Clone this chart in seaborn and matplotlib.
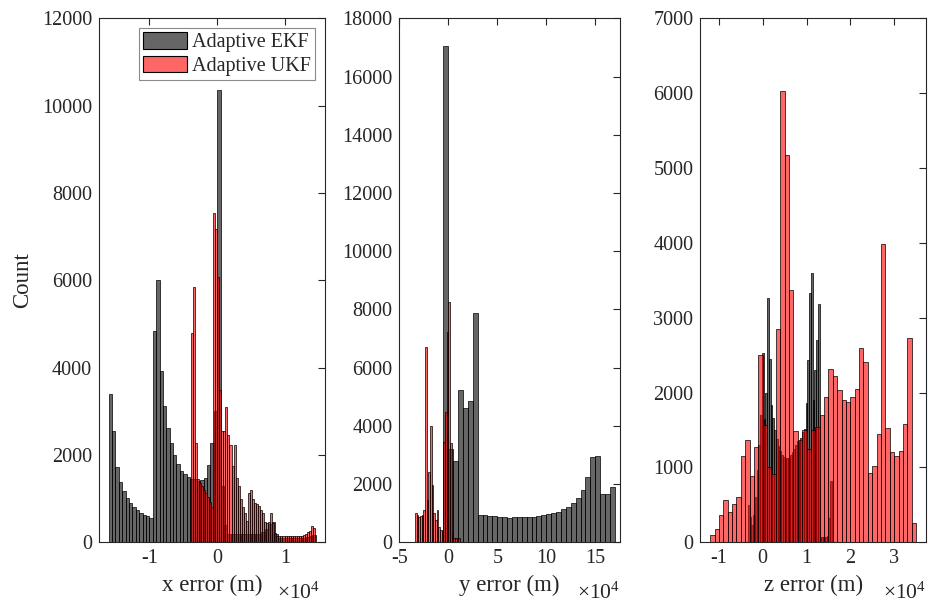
import numpy as np
import pandas as pd
import matplotlib
matplotlib.use("Agg")
import matplotlib.pyplot as plt
from matplotlib.patches import Patch
from matplotlib.ticker import FuncFormatter
import seaborn as sns

sns.set_theme(style="white")
plt.rcParams["font.family"] = ["Liberation Serif", "DejaVu Serif"]
plt.rcParams["mathtext.fontset"] = "custom"
plt.rcParams["mathtext.rm"] = "Liberation Serif"
plt.rcParams["mathtext.it"] = "Liberation Serif:italic"
plt.rcParams["axes.unicode_minus"] = False

# axis multiplier shown as "x10^4" under each panel
SCALE_EXP = 4

# ---------------- x error (m) ----------------
x_ekf_start, x_ekf_width = -16000.0, 500.0
x_ekf_counts = [3400, 2555, 1720, 1380, 1170, 1010, 895, 810, 735, 680, 630, 600, 560,
                4850, 6000, 3930, 3130, 2620, 2270, 1990, 1790, 1640, 1560, 1490, 1460,
                1450, 1400, 1420, 1470, 1780, 2280, 3000, 10350,
                1300, 400, 200, 190, 185, 185, 180, 180, 185, 185, 190, 200, 230, 300,
                420, 470, 200, 110, 100, 100, 100, 100, 100, 100, 110, 120, 140, 160]
x_ukf_start, x_ukf_width = -3900.0, 300.0
x_ukf_counts = [4800, 5850, 2270, 1450, 1350, 1280, 1200, 1120, 1030, 930, 820,
                7540, 7170, 6080, 3500, 2540, 2540, 3090, 2460, 2230, 1750, 2225, 1470,
                1300, 1000, 820, 665, 480, 1125, 1200, 1000, 900, 870, 830, 740, 680,
                460, 450, 460, 680, 450, 210, 150,
                145, 145, 145, 145, 145, 145, 145, 145, 145, 145, 145, 150,
                170, 200, 240, 260, 375, 335]

# ---------------- y error (m) ----------------
y_ekf_start, y_ekf_width = -5000.0, 5000.0
y_ekf_counts = [17060, 3206, 2793, 5240, 4604, 4855, 7868, 938, 925, 915, 900, 880,
                859, 825, 859, 859, 859, 859, 880, 904, 928, 962, 996, 1051, 1134,
                1223, 1340, 1512, 1797, 2254, 2941, 2950, 1650, 1650, 1900]
y_ukf_start, y_ukf_width = -34000.0, 1700.0
y_ukf_counts = [996, 950, 880, 900, 950, 1100, 6720, 1453, 2426, 3996, 1969, 996,
                766, 1110, 536, 423, 400, 3457, 4488, 7237, 8267, 3401, 309,
                137, 137, 137, 160]

# ---------------- z error (m) ----------------
z_ekf_start, z_ekf_width = -3400.0, 400.0
z_ekf_counts = [500, 340, 230, 365, 610, 960, 1300, 1700, 2530, 1650, 2000, 3270,
                2450, 1830, 1666, 1500, 1380, 1290, 1220, 1170, 1140, 1120, 1120,
                1130, 1160, 1200, 1250, 1300, 1350, 1360, 1400, 1480, 1510, 1860,
                2430, 3330, 3600, 1900, 2300, 2700, 3180, 75, 75, 75, 75, 80, 324, 817]
z_ukf_start, z_ukf_width = -12000.0, 1000.0
z_ukf_counts = [97, 173, 364, 564, 400, 506, 600, 1150, 1364, 884, 1275, 2497,
                1564, 1000, 910, 2853, 6030, 5173, 3373, 1488, 1373, 1506, 1253,
                1506, 1541, 1697, 1941, 2319, 2217, 2040, 1906, 1875, 1941, 2053,
                2594, 2407, 920, 1021, 1444, 3986, 1528, 1208, 1150, 1221, 1586,
                2733, 253]

EKF_COLOR = (0.0, 0.0, 0.0)
UKF_COLOR = (1.0, 0.0, 0.0)
INK = "#262626"


def draw_hist(ax, start, width, counts, color):
    counts = np.asarray(counts, dtype=float)
    edges = start + width * np.arange(len(counts) + 1)
    df = pd.DataFrame({"err": 0.5 * (edges[:-1] + edges[1:]), "n": counts})
    sns.histplot(data=df, x="err", weights="n", bins=[float(e) for e in edges],
                 ax=ax, color=color, alpha=0.6, edgecolor="black",
                 linewidth=0.5, stat="count")


fig = plt.figure(figsize=(9.29, 6.09), dpi=100)
bottom, height = 0.1095, 0.8603
ax1 = fig.add_axes([0.1066, bottom, 0.2432, height])
ax2 = fig.add_axes([0.4298, bottom, 0.2373, height])
ax3 = fig.add_axes([0.7538, bottom, 0.2430, height])

panels = [
    (ax1, (x_ekf_start, x_ekf_width, x_ekf_counts), (x_ukf_start, x_ukf_width, x_ukf_counts),
     (-17400, 15850), [-10000, 0, 10000], (0, 12000), np.arange(0, 12001, 2000),
     "x error (m)", 0.98),
    (ax2, (y_ekf_start, y_ekf_width, y_ekf_counts), (y_ukf_start, y_ukf_width, y_ukf_counts),
     (-50000, 175000), [-50000, 0, 50000, 100000, 150000], (0, 18000), np.arange(0, 18001, 2000),
     "y error (m)", 1.0),
    (ax3, (z_ekf_start, z_ekf_width, z_ekf_counts), (z_ukf_start, z_ukf_width, z_ukf_counts),
     (-14250, 37280), [-10000, 0, 10000, 20000, 30000], (0, 7000), np.arange(0, 7001, 1000),
     "z error (m)", 1.0),
]

scale = 10.0 ** SCALE_EXP
for ax, ekf, ukf, xlim, xticks, ylim, yticks, xlabel, exp_x in panels:
    draw_hist(ax, *ekf, EKF_COLOR)
    draw_hist(ax, *ukf, UKF_COLOR)
    ax.set_xlim(*xlim)
    ax.set_ylim(*ylim)
    ax.set_xticks(xticks)
    ax.set_yticks(yticks)
    ax.xaxis.set_major_formatter(FuncFormatter(lambda v, p: f"{v / scale:g}"))
    ax.yaxis.set_major_formatter(FuncFormatter(lambda v, p: f"{int(v)}"))
    ax.tick_params(direction="in", top=True, right=True, length=5, width=0.8,
                   labelsize=14.5, colors=INK, labelcolor=INK, pad=5)
    for s in ax.spines.values():
        s.set_visible(True)
        s.set_color(INK)
        s.set_linewidth(0.8)
    ax.set_xlabel(xlabel, fontsize=16.5, color=INK, labelpad=5)
    ax.set_ylabel("")
    ax.set_facecolor("white")
    ax.text(exp_x, -0.108, r"$\times\mathregular{10^{%d}}$" % SCALE_EXP,
            transform=ax.transAxes, ha="right", va="baseline",
            fontsize=15.5, color=INK)

ax1.set_ylabel("Count", fontsize=16.5, color=INK, labelpad=6)

handles = [Patch(facecolor=(0, 0, 0, 0.6), edgecolor="black", linewidth=0.8),
           Patch(facecolor=(1, 0, 0, 0.6), edgecolor="black", linewidth=0.8)]
leg = ax1.legend(handles, ["Adaptive EKF", "Adaptive UKF"], loc="upper right",
                 fontsize=14.5, frameon=True, fancybox=False, framealpha=1,
                 edgecolor="#8a8a8a", handlelength=2.2, handleheight=0.85,
                 handletextpad=0.25, labelspacing=0.15, borderpad=0.2,
                 borderaxespad=0.5)
leg.get_frame().set_linewidth(0.8)

fig.savefig("out.png", dpi=100, facecolor="white")
